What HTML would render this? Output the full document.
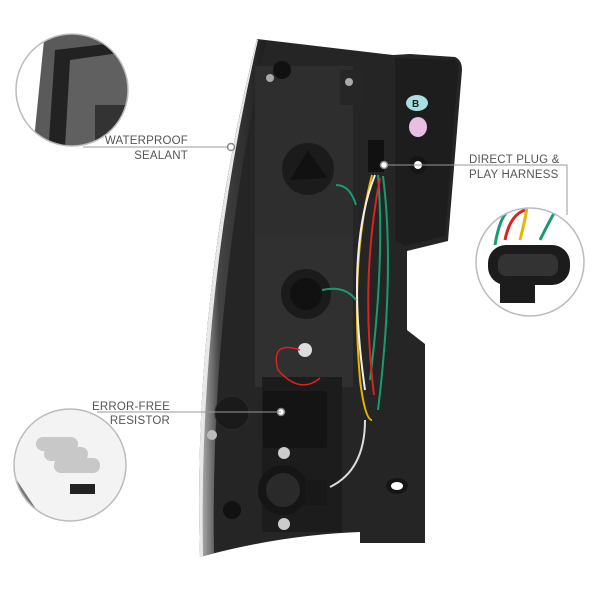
<!DOCTYPE html>
<html><head><meta charset="utf-8"><style>
html,body{margin:0;padding:0;background:#fff;}
svg{display:block;}
text{font-family:"Liberation Sans",sans-serif;font-size:11.5px;fill:#555;letter-spacing:0.2px}
</style></head><body>
<svg width="600" height="600" viewBox="0 0 600 600" xmlns="http://www.w3.org/2000/svg">
<defs>
<clipPath id="c1"><circle cx="72" cy="90" r="56"/></clipPath>
<clipPath id="c2"><circle cx="70" cy="465" r="56"/></clipPath>
<clipPath id="c3"><circle cx="530" cy="262" r="54"/></clipPath>
<linearGradient id="lens" x1="0" x2="1"><stop offset="0" stop-color="#bbb"/><stop offset="0.3" stop-color="#444"/><stop offset="1" stop-color="#1e1e1e"/></linearGradient>
</defs>

<!-- body -->
<path d="M257,39 L393,55 L410,54 L455,57 Q462,60 462,70 L448,241 L407,251 L407,330 L425,344 L425,543 L360,543 L360,532 Q280,535 200,557 Q192,300 257,39 Z" fill="#252525"/>
<!-- lens rim -->
<path d="M257,39 Q192,300 200,557 L214,553 Q210,300 266,42 Z" fill="url(#lens)"/>
<path d="M200,557 L203,557 Q198,300 258,40 L257,39 Q192,300 200,557Z" fill="#e8e8e8"/>
<!-- bracket -->
<path d="M395,58 L455,60 Q459,63 458,72 L445,236 L405,246 L395,240Z" fill="#1d1d1d"/>
<ellipse cx="417" cy="103" rx="11" ry="8" fill="#a8dfe2"/>
<text x="412" y="107" style="font-size:10px;fill:#222;font-weight:bold">B</text>
<ellipse cx="418" cy="127" rx="9" ry="10" fill="#e8bfe0"/>
<circle cx="418" cy="165" r="9" fill="#151515"/><circle cx="418" cy="165" r="4" fill="#fff"/>
<ellipse cx="397" cy="486" rx="11" ry="8" fill="#151515"/><ellipse cx="397" cy="486" rx="6" ry="4" fill="#fff"/>
<!-- panels -->
<rect x="255" y="66" width="98" height="171" fill="#2e2e2e"/>
<rect x="255" y="235" width="98" height="152" fill="#303030"/>
<rect x="340" y="70" width="22" height="35" fill="#262626"/>
<circle cx="308" cy="169" r="26" fill="#1b1b1b"/>
<path d="M308,150 L327,178 L290,180 Z" fill="#111"/>
<circle cx="306" cy="294" r="25" fill="#1b1b1b"/>
<circle cx="306" cy="294" r="16" fill="#111"/>
<circle cx="270" cy="78" r="4" fill="#aaa"/><circle cx="349" cy="82" r="4" fill="#aaa"/>
<circle cx="282" cy="70" r="9" fill="#111"/>
<!-- lower -->
<rect x="262" y="377" width="80" height="155" fill="#1c1c1c"/>
<rect x="263" y="391" width="64" height="57" fill="#141414" rx="3"/>
<circle cx="281" cy="412" r="3.5" fill="#fff" stroke="#888" stroke-width="1.5"/>
<circle cx="232" cy="413" r="17" fill="#1a1a1a" stroke="#2c2c2c"/>
<circle cx="212" cy="435" r="5" fill="#bbb"/>
<circle cx="283" cy="490" r="25" fill="#151515"/><circle cx="283" cy="490" r="17" fill="#2a2a2a"/>
<rect x="305" y="480" width="22" height="25" fill="#181818"/>
<circle cx="284" cy="453" r="6" fill="#ccc"/><circle cx="284" cy="524" r="6" fill="#ccc"/>
<circle cx="232" cy="510" r="9" fill="#111"/>
<circle cx="305" cy="350" r="7" fill="#ddd"/>
<path d="M300,350 Q270,340 278,370 Q300,395 320,378" stroke="#d22" fill="none" stroke-width="1.5"/>
<!-- wires -->
<rect x="368" y="140" width="16" height="32" fill="#111"/>
<g fill="none" stroke-width="2">
<path d="M372,175 Q350,260 360,380 Q365,420 372,420" stroke="#e8b400"/>
<path d="M378,175 Q385,260 370,380" stroke="#1a9a70"/>
<path d="M375,175 Q345,250 365,390" stroke="#eee"/>
<path d="M380,178 Q360,280 374,395" stroke="#d22"/>
<path d="M383,176 Q395,270 378,410" stroke="#1a9a70"/>
<path d="M336,185 Q350,185 356,205" stroke="#1a9a70"/>
<path d="M322,290 Q345,285 356,300" stroke="#1a9a70"/>
<path d="M365,420 Q365,470 330,487" stroke="#ddd"/>
</g>
<!-- leaders -->
<g stroke="#999" stroke-width="1" fill="none">
<line x1="83" y1="147" x2="231" y2="147"/>
<polyline points="384,165 567,165 567,215"/>
<line x1="97" y1="412" x2="281" y2="412"/>
</g>
<circle cx="231" cy="147" r="3.5" fill="#fff" stroke="#888" stroke-width="1.5"/>
<circle cx="384" cy="165" r="3.5" fill="#fff" stroke="#888" stroke-width="1.5"/>
<text x="188" y="144" text-anchor="end">WATERPROOF</text>
<text x="188" y="159" text-anchor="end">SEALANT</text>
<text x="469" y="163">DIRECT PLUG &amp;</text>
<text x="469" y="178">PLAY HARNESS</text>
<text x="170" y="410" text-anchor="end">ERROR-FREE</text>
<text x="170" y="424" text-anchor="end">RESISTOR</text>
<!-- circle 1 -->
<g clip-path="url(#c1)">
<rect x="0" y="0" width="200" height="200" fill="#fff"/>
<path d="M45,30 L140,20 L140,200 L28,200 Z" fill="#5a5a5a"/>
<path d="M55,50 L140,40 L140,200 L45,200 Z" fill="#222"/>
<path d="M70,60 L140,50 L140,200 L62,200 Z" fill="#606060"/>
<rect x="95" y="105" width="40" height="40" fill="#333"/>
</g>
<circle cx="72" cy="90" r="56" fill="none" stroke="#bbb" stroke-width="1.5"/>
<!-- circle 2 -->
<g clip-path="url(#c2)">
<rect x="0" y="400" width="140" height="140" fill="#f3f3f3"/>
<path d="M10,470 L50,530 L44,535 L5,478Z" fill="#777"/>
<g fill="#c8c8c8"><rect x="36" y="437" width="42" height="14" rx="7"/><rect x="44" y="447" width="44" height="14" rx="7"/><rect x="54" y="458" width="46" height="15" rx="7"/></g>
<rect x="70" y="484" width="25" height="10" fill="#222"/>
</g>
<circle cx="70" cy="465" r="56" fill="none" stroke="#bbb" stroke-width="1.5"/>
<!-- circle 3 -->
<g clip-path="url(#c3)">
<rect x="470" y="200" width="120" height="130" fill="#fff"/>
<g fill="none" stroke-width="3"><path d="M505,240 Q510,215 525,210" stroke="#d22"/><path d="M520,240 Q530,200 525,208" stroke="#e8b400"/><path d="M540,240 Q560,200 555,215" stroke="#1a9a70"/><path d="M495,245 Q500,215 510,210" stroke="#1a9a70"/></g>
<rect x="488" y="245" width="82" height="40" rx="18" fill="#1c1c1c"/>
<rect x="498" y="254" width="60" height="22" rx="8" fill="#333"/>
<rect x="500" y="283" width="35" height="20" fill="#1c1c1c"/>
</g>
<circle cx="530" cy="262" r="54" fill="none" stroke="#bbb" stroke-width="1.5"/>
</svg>
</body></html>
